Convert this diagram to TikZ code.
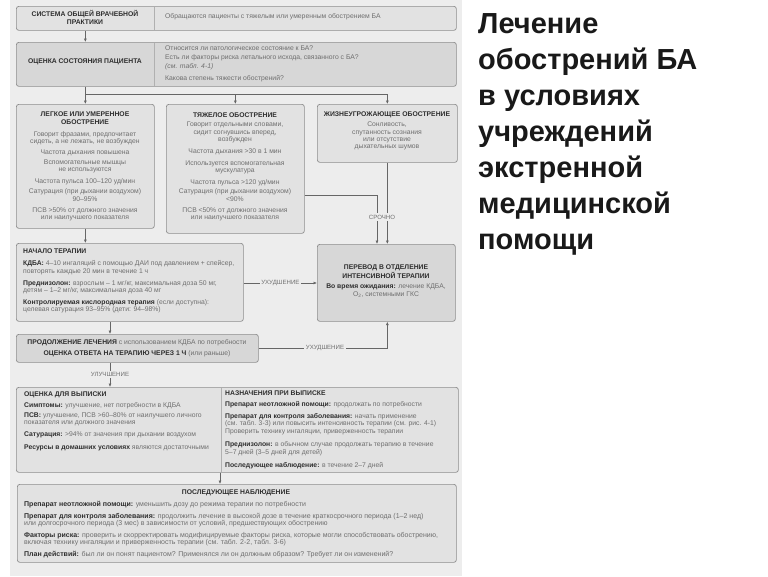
\documentclass[tikz,border=0pt]{standalone}
\usepackage{fontspec}
\setmainfont{Liberation Sans}
\usetikzlibrary{arrows.meta}
\definecolor{panel}{HTML}{EDEDED}
\definecolor{boxfill}{HTML}{E2E2E2}
\definecolor{boxdark}{HTML}{D7D7D7}
\definecolor{boxline}{HTML}{8E8E8E}
\definecolor{txtgray}{HTML}{6E6E6E}
\definecolor{txtdark}{HTML}{2E2E2E}
\definecolor{conncol}{HTML}{666666}
\newcommand\hb[1]{{\bfseries\color{txtdark}#1}}
\begin{document}
\begin{tikzpicture}[x=1pt,y=-1pt,
 box/.style={draw=boxline, fill=boxfill, rounded corners=2.5pt, line width=0.7pt, anchor=north west, inner sep=0},
 dbox/.style={box, fill=boxdark},
 divider/.style={draw=boxline!70, line width=0.6pt},
 sm/.style={font=\fontsize{6.8}{7.3}\selectfont, text=txtgray, inner sep=0},
 smb/.style={font=\fontsize{7.0}{7.6}\selectfont, text=txtgray, inner sep=0},
 hd/.style={font=\fontsize{6.8}{8.3}\selectfont\bfseries, text=txtdark, inner sep=0},
 lab/.style={font=\fontsize{6.1}{7}\selectfont, text=txtgray, fill=panel, inner sep=1.5pt},
 conn/.style={draw=conncol, line width=0.6pt},
 arr/.style={conn, -{Latex[length=3.5pt,width=3pt]}},
 title/.style={font=\fontsize{29}{36}\selectfont\bfseries, text=black!90, inner sep=0, align=left, anchor=north west}
]
\useasboundingbox (0,0) rectangle (768,576);
\fill[white] (0,0) rectangle (768,576);
\fill[panel] (10,0) rectangle (462,576);

% boxes
\node[box, minimum width=440, minimum height=24] (b1) at (16,6) {};
\node[dbox, minimum width=440, minimum height=44] (b2) at (16,42) {};
\node[box, minimum width=138, minimum height=124] (sL) at (16,104) {};
\node[box, minimum width=138, minimum height=129] (sM) at (166,104) {};
\node[box, minimum width=140, minimum height=58] (sR) at (317,104) {};
\node[box, minimum width=227, minimum height=78] (b3) at (16,243) {};
\node[dbox, minimum width=138, minimum height=77] (b4) at (317,244) {};
\node[dbox, minimum width=242, minimum height=28] (b5) at (16,334) {};
\node[box, minimum width=442, minimum height=85] (b6) at (16,387) {};
\node[box, minimum width=439, minimum height=78] (b7) at (17,484) {};
\draw[divider] (154,6.5) -- (154,29.5);
\draw[divider] (154,42.5) -- (154,85.5);
\draw[divider] (221,387.5) -- (221,471.5);

% texts
\node[hd, align=center] (t1l) at (85,17.5) {СИСТЕМА ОБЩЕЙ ВРАЧЕБНОЙ\\ПРАКТИКИ};
\node[sm, anchor=west] (t1r) at (165,17) {Обращаются пациенты с тяжелым или умеренным обострением БА};
\node[hd] (t2l) at (85,62) {ОЦЕНКА СОСТОЯНИЯ ПАЦИЕНТА};
\node[sm, anchor=west] (t2a) at (165,48) {Относится ли патологическое состояние к БА?};
\node[sm, anchor=west] (t2b) at (165,58) {Есть ли факторы риска летального исхода, связанного с БА?};
\node[sm, anchor=west] (t2c) at (165,67) {\itshape (см. табл. 4-1)};
\node[sm, anchor=west] (t2d) at (165,79) {Какова степень тяжести обострений?};

\node[hd, align=center, anchor=north] (hL) at (85,111.5) {ЛЕГКОЕ ИЛИ УМЕРЕННОЕ\\ОБОСТРЕНИЕ};
\node[sm, align=center, anchor=north] (gL) at (85,131) {Говорит фразами, предпочитает\\сидеть, а не лежать, не возбужден\\[3.5pt]Частота дыхания повышена\\[3pt]Вспомогательные мышцы\\не используются\\[4.5pt]Частота пульса 100–120 уд/мин\\[3pt]Сатурация (при дыхании воздухом)\\90–95\%\\[3.5pt]ПСВ >50\% от должного значения\\или наилучшего показателя};

\node[hd] (hM) at (235,115) {ТЯЖЕЛОЕ ОБОСТРЕНИЕ};
\node[sm, align=center, anchor=north] (gM) at (235,122) {Говорит отдельными словами,\\сидит согнувшись вперед,\\возбужден\\[4.5pt]Частота дыхания >30 в 1 мин\\[4.5pt]Используется вспомогательная\\мускулатура\\[5pt]Частота пульса >120 уд/мин\\[2pt]Сатурация (при дыхании воздухом)\\<90\%\\[3.5pt]ПСВ <50\% от должного значения\\или наилучшего показателя};

\node[hd] (hR) at (387,115) {ЖИЗНЕУГРОЖАЮЩЕЕ ОБОСТРЕНИЕ};
\node[sm, align=center, anchor=north] (gR) at (387,122) {Сонливость,\\спутанность сознания\\или отсутствие\\дыхательных шумов};

\node[sm, align=left, anchor=north west] (g3) at (23,249) {\hb{НАЧАЛО ТЕРАПИИ}\\[4.5pt]\hb{КДБА:} 4–10 ингаляций с помощью ДАИ под давлением + спейсер,\\повторять каждые 20 мин в течение 1 ч\\[5pt]\hb{Преднизолон:} взрослым – 1 мг/кг, максимальная доза 50 мг,\\детям – 1–2 мг/кг, максимальная доза 40 мг\\[4.5pt]\hb{Контролируемая кислородная терапия} (если доступна):\\целевая сатурация 93–95\% (дети: 94–98\%)};

\node[sm, align=center, anchor=north] (g4) at (386,265) {\hb{ПЕРЕВОД В ОТДЕЛЕНИЕ}\\\hb{ИНТЕНСИВНОЙ ТЕРАПИИ}\\[3pt]\hb{Во время ожидания:} лечение КДБА,\\O\textsubscript{2}, системными ГКС};

\node[sm, align=center, anchor=north] (g5) at (137,339) {\hb{ПРОДОЛЖЕНИЕ ЛЕЧЕНИЯ} с использованием КДБА по потребности\\[4.5pt]\hb{ОЦЕНКА ОТВЕТА НА ТЕРАПИЮ ЧЕРЕЗ 1 Ч} (или раньше)};

\node[sm, align=left, anchor=north west] (g6l) at (24,392) {\hb{ОЦЕНКА ДЛЯ ВЫПИСКИ}\\[3pt]\hb{Симптомы:} улучшение, нет потребности в КДБА\\[3pt]\hb{ПСВ:} улучшение, ПСВ >60–80\% от наилучшего личного\\показателя или должного значения\\[4.5pt]\hb{Сатурация:} >94\% от значения при дыхании воздухом\\[5.5pt]\hb{Ресурсы в домашних условиях} являются достаточными};

\node[sm, align=left, anchor=north west] (g6r) at (225,391) {\hb{НАЗНАЧЕНИЯ ПРИ ВЫПИСКЕ}\\[3.5pt]\hb{Препарат неотложной помощи:} продолжать по потребности\\[4.5pt]\hb{Препарат для контроля заболевания:} начать применение\\(см. табл. 3-3) или повысить интенсивность терапии (см. рис. 4-1)\\Проверить технику ингаляции, приверженность терапии\\[6.5pt]\hb{Преднизолон:} в обычном случае продолжать терапию в течение\\5–7 дней (3–5 дней для детей)\\[5.5pt]\hb{Последующее наблюдение:} в течение 2–7 дней};

\node[hd] (h7) at (236,493) {ПОСЛЕДУЮЩЕЕ НАБЛЮДЕНИЕ};
\node[smb, align=left, anchor=north west] (g7) at (24,501) {\hb{Препарат неотложной помощи:} уменьшить дозу до режима терапии по потребности\\[4pt]\hb{Препарат для контроля заболевания:} продолжить лечение в высокой дозе в течение краткосрочного периода (1–2 нед)\\или долгосрочного периода (3 мес) в зависимости от условий, предшествующих обострению\\[4pt]\hb{Факторы риска:} проверить и скорректировать модифицируемые факторы риска, которые могли способствовать обострению,\\включая технику ингаляции и приверженность терапии (см. табл. 2-2, табл. 3-6)\\[4pt]\hb{План действий:} был ли он понят пациентом? Применялся ли он должным образом? Требует ли он изменений?};

% title
\node[title] (ttl) at (478,13) {Лечение\\обострений БА\\в условиях\\учреждений\\экстренной\\медицинской\\помощи};

% connectors
\coordinate (j) at (0,94);
\coordinate (c1) at (377,195);
\coordinate (r1) at (0,283);
\coordinate (c3) at (110,0);
\coordinate (c4) at (220,0);
\draw[arr] (b1.south -| sL) -- (b2.north -| sL);
\draw[conn] (b2.south -| sL) -- (j -| sL) -- (j -| sR);
\draw[arr] (j -| sL) -- (sL.north);
\draw[arr] (j -| sM) -- (sM.north);
\draw[arr] (j -| sR) -- (sR.north);
\draw[arr] (sL.south) -- (b3.north -| sL);
\draw[arr] (sM.east |- c1) -- (c1) -- (c1 |- b4.north);
\draw[arr] (sR.south) -- (sR.south |- b4.north);
\node[lab] (lsr) at (382,217) {СРОЧНО};
\draw[arr] (b3.east |- r1) -- node[lab] (lu1) {УХУДШЕНИЕ} (b4.west |- r1);
\draw[arr] (b3.south -| c3) -- (b5.north -| c3);
\draw[arr] (b5.east) -- (b5.east -| sR.south) -- (b4.south -| sR.south);
\node[lab] (lu2) at (325,348) {УХУДШЕНИЕ};
\draw[arr] (b5.south -| c3) -- node[lab] (lul) {УЛУЧШЕНИЕ} (b6.north -| c3);
\draw[arr] (b6.south -| c4) -- (b7.north -| c4);
\end{tikzpicture}
\end{document}
